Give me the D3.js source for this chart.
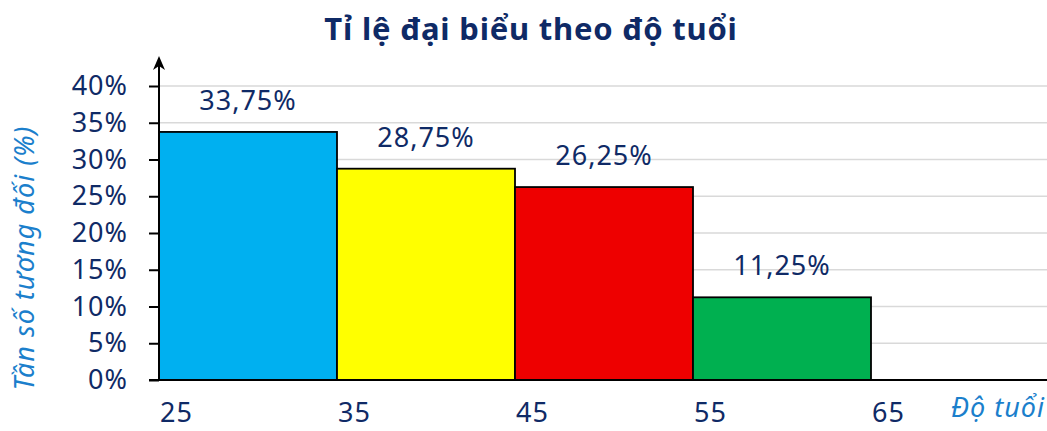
<!DOCTYPE html>
<html>
<head>
<meta charset="utf-8">
<script src="https://cdn.jsdelivr.net/npm/d3@7"></script>
<style>
  body { margin: 0; background: #fff; }
  svg { font-family: "Noto Sans", sans-serif; }
</style>
</head>
<body>
<div id="chart"></div>
<script>
var binStarts = [25, 35, 45, 55];
var binEnds = [35, 45, 55, 65];
var percents = [33.75, 28.75, 26.25, 11.25];
var barColors = ["#00b0f0", "#ffff00", "#ee0000", "#00b050"];
var xTicks = [25, 35, 45, 55, 65];
var yTicks = [0, 5, 10, 15, 20, 25, 30, 35, 40];

var width = 1047, height = 431;
var navy = "#0f2a66";
var labelBlue = "#1b7fcc";
var fs = 27;

var svg = d3.select("#chart").append("svg")
    .attr("width", width)
    .attr("height", height);

var x = d3.scaleLinear().domain([25, 75]).range([159, 1049]);
var y = d3.scaleLinear().domain([0, 40]).range([380, 86]);

// title
svg.append("text")
    .attr("x", 531)
    .attr("y", 40)
    .attr("text-anchor", "middle")
    .attr("font-size", 31)
    .attr("font-weight", "bold")
    .attr("letter-spacing", 0.8)
    .attr("fill", navy)
    .text("Tỉ lệ đại biểu theo độ tuổi");

// gridlines
svg.append("g")
    .selectAll("line")
    .data(yTicks.slice(1))
    .enter().append("line")
    .attr("x1", 159)
    .attr("x2", width)
    .attr("y1", function(d) { return y(d); })
    .attr("y2", function(d) { return y(d); })
    .attr("stroke", "#d9d9d9")
    .attr("stroke-width", 1.5);

// bars
svg.append("g")
    .selectAll("rect")
    .data(percents)
    .enter().append("rect")
    .attr("x", function(d, i) { return x(binStarts[i]); })
    .attr("width", function(d, i) { return x(binEnds[i]) - x(binStarts[i]); })
    .attr("y", function(d) { return y(d); })
    .attr("height", function(d) { return y(0) - y(d); })
    .attr("fill", function(d, i) { return barColors[i]; })
    .attr("stroke", "#000")
    .attr("stroke-width", 1.8);

// bar labels
svg.append("g")
    .selectAll("text")
    .data(percents)
    .enter().append("text")
    .attr("x", function(d, i) { return (x(binStarts[i]) + x(binEnds[i])) / 2; })
    .attr("y", function(d) { return y(d) - 22; })
    .attr("text-anchor", "middle")
    .attr("font-size", fs)
    .attr("letter-spacing", 1)
    .attr("fill", navy)
    .text(function(d) { return d.toFixed(2).replace(".", ",") + "%"; });

// y axis
var yAxis = d3.axisLeft(y)
    .tickValues(yTicks)
    .tickSize(10)
    .tickPadding(21)
    .tickFormat(function(d) { return d + "%"; });

var gy = svg.append("g")
    .attr("transform", "translate(159,0)")
    .call(yAxis);
gy.select(".domain").remove();
gy.selectAll(".tick line").attr("stroke", "#000").attr("stroke-width", 2);
gy.selectAll(".tick text")
    .attr("font-size", fs)
    .attr("letter-spacing", 1)
    .attr("fill", navy)
    .attr("font-family", "Noto Sans, sans-serif");

svg.append("line")
    .attr("x1", 159).attr("x2", 159)
    .attr("y1", y(0) + 1).attr("y2", 62)
    .attr("stroke", "#000")
    .attr("stroke-width", 2);
svg.append("path")
    .attr("d", "M159,56 L153,70 L159,66 L165,70 Z")
    .attr("fill", "#000");

// x axis baseline
svg.append("line")
    .attr("x1", 149).attr("x2", width)
    .attr("y1", y(0)).attr("y2", y(0))
    .attr("stroke", "#000")
    .attr("stroke-width", 2);

// x tick labels
svg.append("g")
    .selectAll("text")
    .data(xTicks)
    .enter().append("text")
    .attr("x", function(d) { return x(d) + 1; })
    .attr("y", 422)
    .attr("font-size", fs)
    .attr("letter-spacing", 1)
    .attr("fill", navy)
    .text(function(d) { return d; });

// axis titles
svg.append("text")
    .attr("transform", "translate(34,258) rotate(-90)")
    .attr("text-anchor", "middle")
    .attr("font-size", fs)
    .attr("font-style", "italic")
    .attr("letter-spacing", 1)
    .attr("fill", labelBlue)
    .text("Tần số tương đối (%)");

svg.append("text")
    .attr("x", 1045)
    .attr("y", 417)
    .attr("text-anchor", "end")
    .attr("font-size", fs)
    .attr("font-style", "italic")
    .attr("letter-spacing", 1)
    .attr("fill", labelBlue)
    .text("Độ tuổi");
</script>
</body>
</html>
